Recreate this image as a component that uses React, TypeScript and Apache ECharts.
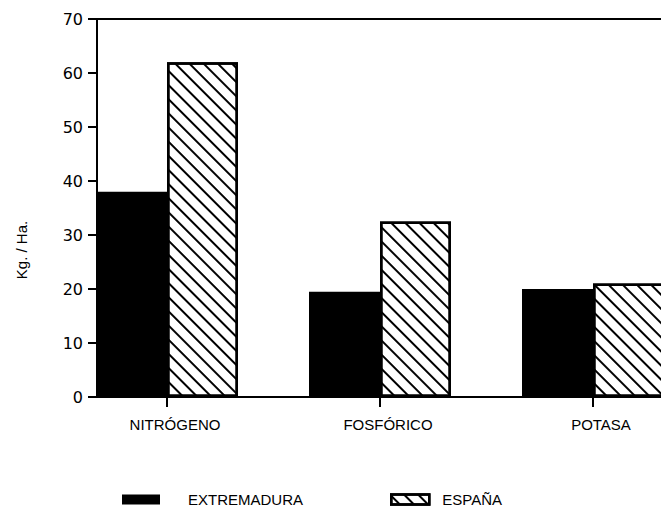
import React, { useEffect, useRef } from "react";
import * as echarts from "echarts";

const categories = ["NITRÓGENO", "FOSFÓRICO", "POTASA"];
const extremadura = [38, 19.5, 20];
const espana = [62, 32.5, 21];
const seriesNames = ["EXTREMADURA", "ESPAÑA"];
const yAxisName = "Kg. / Ha.";
const yMin = 0;
const yMax = 70;
const yInterval = 10;

const FONT = "Liberation Sans";
const NUMFONT = "DejaVu Sans";

export default function App() {
  const ref = useRef<HTMLDivElement>(null);
  useEffect(() => {
    if (!ref.current) return;
    const chart = echarts.init(ref.current, null, { renderer: "svg" });
    const hatch = {
      color: "#000",
      backgroundColor: "#fff",
      symbol: "rect",
      symbolSize: 1,
      dashArrayX: [1, 0],
      dashArrayY: [1.6, 8],
      rotation: Math.PI / 4,
    };
    chart.setOption({
      animation: false,
      backgroundColor: "#fff",
      grid: [
        { left: 60.5, width: 639, top: 19, bottom: 118 },
        { left: 97, width: 564, top: 19, bottom: 118 },
      ],
      legend: [
        {
          data: [{ name: seriesNames[0], icon: "rect" }],
          left: 117,
          top: 487,
          itemWidth: 38,
          itemHeight: 10,
          textStyle: { fontFamily: FONT, fontSize: 15, color: "#000", padding: [0, 0, 0, 23] },
        },
        {
          data: [
            {
              name: seriesNames[1],
              icon: "rect",
              itemStyle: { borderColor: "#000", borderWidth: 2.5 },
            },
          ],
          left: 385,
          top: 487,
          itemWidth: 38,
          itemHeight: 10,
          textStyle: { fontFamily: FONT, fontSize: 15, color: "#000", padding: [0, 0, 0, 8] },
        },
      ],
      xAxis: [
        {
          type: "category",
          gridIndex: 0,
          data: categories,
          axisLine: { show: false },
          axisTick: { show: true, alignWithLabel: true, length: 10, lineStyle: { color: "#000", width: 2 } },
          axisLabel: { fontFamily: FONT, fontSize: 15, color: "#000", margin: 20, padding: [0, 0, 0, 16] },
          splitLine: { show: false },
        },
        {
          type: "value",
          gridIndex: 1,
          min: 0,
          max: 1,
          position: "bottom",
          axisLine: { show: true, lineStyle: { color: "#000", width: 2 } },
          axisTick: { show: false },
          axisLabel: { show: false },
          splitLine: { show: false },
        },
        {
          type: "value",
          gridIndex: 1,
          min: 0,
          max: 1,
          position: "top",
          axisLine: { show: true, lineStyle: { color: "#000", width: 2 } },
          axisTick: { show: false },
          axisLabel: { show: false },
          splitLine: { show: false },
        },
      ],
      yAxis: [
        {
          type: "value",
          gridIndex: 0,
          min: yMin,
          max: yMax,
          show: false,
        },
        {
          type: "value",
          gridIndex: 1,
          min: yMin,
          max: yMax,
          interval: yInterval,
          name: yAxisName,
          nameLocation: "middle",
          nameGap: 68,
          nameTextStyle: { fontFamily: FONT, fontSize: 15, color: "#000", padding: [0, 84, 0, 0] },
          axisLine: { show: true, lineStyle: { color: "#000", width: 2 } },
          axisTick: { show: true, length: 9, lineStyle: { color: "#000", width: 2 } },
          axisLabel: { fontFamily: NUMFONT, fontSize: 16, color: "#000", margin: 14 },
          splitLine: { show: false },
        },
      ],
      series: [
        {
          name: seriesNames[0],
          type: "bar",
          xAxisIndex: 0,
          yAxisIndex: 0,
          data: extremadura,
          barWidth: 71,
          barGap: "0%",
          itemStyle: { color: "#000" },
        },
        {
          name: seriesNames[1],
          type: "bar",
          xAxisIndex: 0,
          yAxisIndex: 0,
          data: espana,
          barWidth: 71,
          barGap: "0%",
          itemStyle: { color: "#fff", borderColor: "#000", borderWidth: 2.5, decal: hatch },
        },
        {
          type: "line",
          xAxisIndex: 1,
          yAxisIndex: 1,
          data: [],
          silent: true,
        },
      ],
    });
    return () => chart.dispose();
  }, []);
  return (
    <div
      ref={ref}
      style={{ position: "fixed", left: 0, top: 0, width: 700, height: 515 }}
    />
  );
}
